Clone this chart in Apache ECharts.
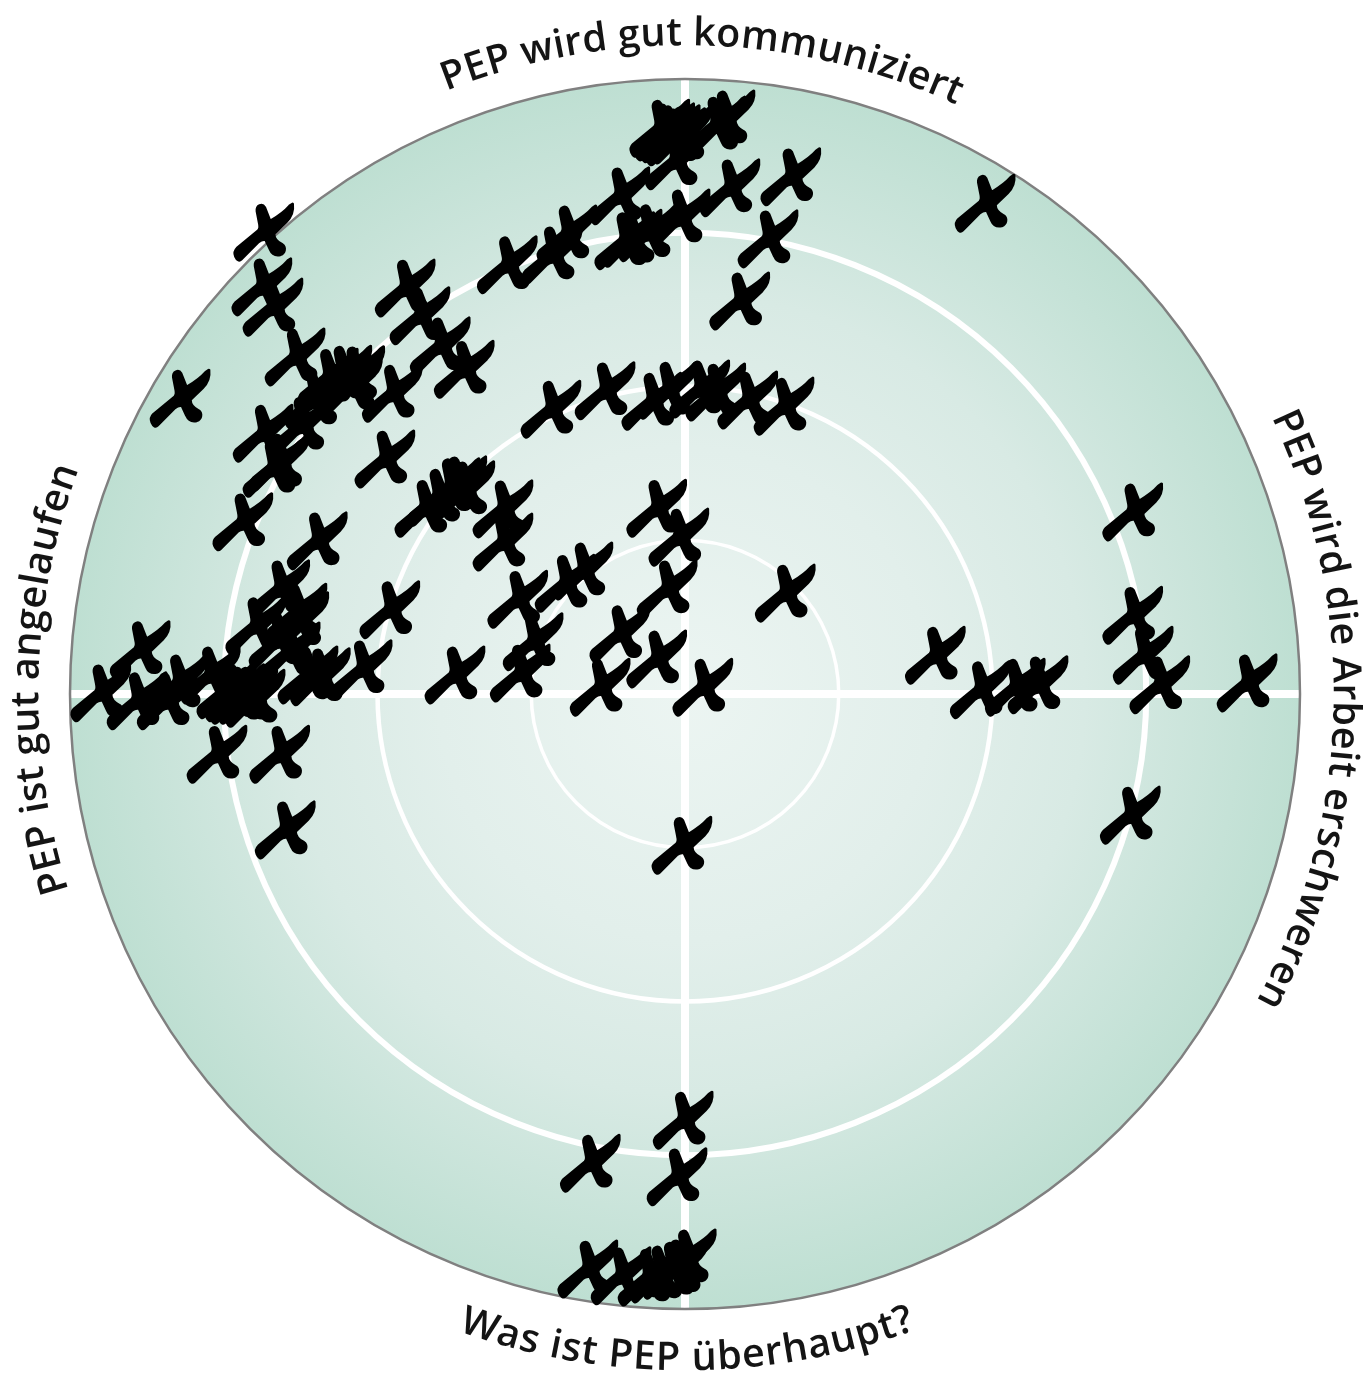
<!DOCTYPE html>
<html><head><meta charset="utf-8">
<style>html,body{margin:0;padding:0;background:#fff}#c{width:1363px;height:1373px}</style>
<script src="https://cdn.jsdelivr.net/npm/echarts@6/dist/echarts.min.js"></script>
</head><body><div id="c"></div>
<script>
const xValues=[48.8,17.2,7.3,13.5,8.9,6.5,5.0,-4.1,-3.3,-2.4,-1.5,-0.5,-1.6,-10.6,-0.8,-6.0,-8.6,-9.8,-28.9,-21.6,-19.2,
-68.5,-68.8,-67.0,-63.4,-82.1,-45.5,-43.1,-39.8,-35.9,-47.6,-58.0,-55.8,-53.7,-54.1,-60.2,-62.3,-68.6,-67.0,-65.9,-48.8,-71.9,-59.8,
-42.3,-40.2,-38.2,-37.1,-35.8,-29.6,-29.6,-21.8,-13.0,-5.4,-2.8,2.4,5.0,10.2,16.1,-4.6,-1.0,-2.9,16.3,-10.6,-4.6,2.9,-13.8,-26.8,-24.7,-27.2,-19.5,-16.6,-37.4,-48.0,-52.5,
-88.6,-95.0,-89.1,-84.2,-82.4,-77.2,-74.5,-73.2,-72.4,-71.1,-69.9,-65.9,-69.8,-63.1,-62.8,-66.0,-64.2,-61.3,-59.3,-76.1,-65.9,-65.0,
72.8,72.8,74.5,77.2,91.4,40.7,48.0,53.7,57.4,72.4,
-0.5,-0.3,-1.3,-15.4,-15.8,-10.4,-6.0,-4.1,-2.1,-1.1,0.2];
const yValues=[79.8,84.1,82.3,74.0,63.9,93.5,92.5,92.0,91.4,91.1,90.6,90.9,86.7,81.0,77.4,75.0,74.1,73.7,69.8,71.4,74.8,
75.1,66.2,62.9,54.8,48.1,66.0,61.5,56.6,52.8,48.9,51.5,52.0,51.9,50.2,47.8,43.7,42.4,36.7,37.7,38.2,28.0,24.9,
30.2,32.0,33.7,34.0,33.2,30.1,24.7,46.3,49.3,47.6,49.4,49.6,49.1,47.8,46.8,30.2,25.5,17.1,16.4,9.8,5.7,1.1,1.1,3.4,8.5,15.4,18.0,20.0,3.1,13.7,4.1,
7.2,0.2,-1.1,-1.1,1.8,3.1,0.7,0.2,-0.2,-0.2,-0.7,17.1,11.1,13.3,11.9,8.8,7.0,3.1,2.8,-9.8,-9.8,-22.1,
29.6,12.8,6.3,1.5,1.8,6.3,0.7,1.1,1.5,-19.7,
-24.6,-69.3,-78.5,-76.3,-93.5,-94.6,-94.8,-94.3,-93.7,-93.3,-91.7];
const ringLevels=[25,50,75];
const ringWidths=[3.5,4.5,6];
const labelTexts=['PEP wird gut kommuniziert','PEP wird die Arbeit erschweren','Was ist PEP überhaupt?','PEP ist gut angelaufen'];
const labelAngles=[1.55,91.5,179.8,271.35];
const labelRadii=[640,640,685,638];
const labelSpacing=[0,0.1,1.2,0];
const labelFlip=[false,false,true,false];

const crossPath='path://M218,42 C221,65 215,80 198,97 L160,133 C160,150 172,160 186,167 C197,175 195,192 180,198 C165,201 154,194 149,182 L135,152 C128,150 120,152 112,158 L58,212 C52,218 46,214 41,203 C36,192 38,186 46,178 L112,124 C118,118 118,112 115,100 L108,64 C106,46 124,40 131,52 L148,95 Q190,70 209,48 Z';
const chart=echarts.init(document.getElementById('c'),null,{renderer:'canvas'});
const points=xValues.map((x,i)=>[x,yValues[i]]);
function circle(api,r,style){
  const c=api.coord([0,0]);const R=api.size([r,0])[0];
  return {type:'circle',shape:{cx:c[0],cy:c[1],r:R},style};
}
chart.setOption({
  animation:false,
  grid:{left:70,top:79,width:1230,height:1230},
  xAxis:{type:'value',min:-100,max:100,interval:25,z:2,axisLine:{onZero:true,lineStyle:{color:'#fff',width:8}},axisTick:{show:false},axisLabel:{show:false},splitLine:{show:false}},
  yAxis:{type:'value',min:-100,max:100,interval:25,z:2,axisLine:{onZero:true,lineStyle:{color:'#fff',width:8}},axisTick:{show:false},axisLabel:{show:false},splitLine:{show:false}},
  series:[
    {type:'custom',z:1,silent:true,data:[[100]],renderItem:(p,api)=>circle(api,api.value(0),{
      fill:new echarts.graphic.RadialGradient(0.5,0.5,0.5,[{offset:0,color:'#ecf5f2'},{offset:0.4,color:'#e2efeb'},{offset:0.65,color:'#d8eae4'},{offset:1,color:'#bedfd2'}])})},
    {type:'custom',z:3,silent:true,data:ringLevels.map((r,i)=>[r,ringWidths[i]]),renderItem:(p,api)=>circle(api,api.value(0),{fill:'none',stroke:'#fff',lineWidth:api.value(1)})},
    {type:'custom',z:4,silent:true,data:[[100]],renderItem:(p,api)=>circle(api,api.value(0),{fill:'none',stroke:'#808080',lineWidth:2.5})},
    {type:'scatter',z:5,silent:true,data:points,symbol:crossPath,symbolSize:[58,56],itemStyle:{color:'#000',opacity:1,borderColor:'#000',borderWidth:3,borderJoin:'round'}}
  ]
});
const ctx=document.createElement('canvas').getContext('2d');
const FONT='600 39.5px "Open Sans"';ctx.font=FONT;
const centre=chart.convertToPixel({gridIndex:0},[0,0]);
const els=[];
labelTexts.forEach((t,k)=>{
  const sp=labelSpacing[k],total=ctx.measureText(t).width+sp*(t.length-1),R=labelRadii[k],flip=labelFlip[k];
  const a0=labelAngles[k]*Math.PI/180;
  for(let i=0;i<t.length;i++){
    const before=ctx.measureText(t.slice(0,i)).width+sp*i,w=ctx.measureText(t[i]).width;
    const off=(before+w/2-total/2)/R;
    const a=flip?a0-off:a0+off;
    const x=centre[0]+R*Math.sin(a),y=centre[1]-R*Math.cos(a);
    els.push({type:'text',x,y,rotation:flip?Math.PI-a:-a,silent:true,z:10,
      style:{text:t[i],font:FONT,fill:'#141414',align:'center',verticalAlign:'bottom'}});
  }
});
chart.setOption({graphic:{elements:els}});
</script></body></html>
